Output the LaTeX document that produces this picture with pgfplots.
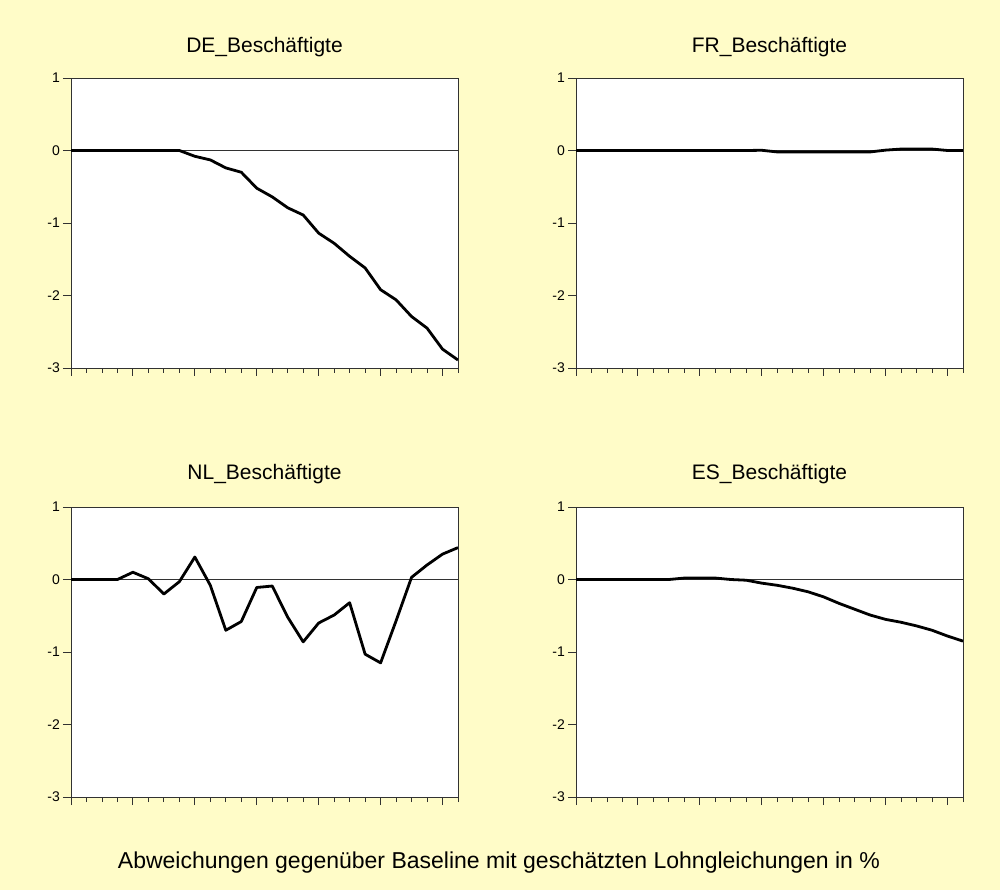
\documentclass[border=0pt]{standalone}
\usepackage{pgfplots}
\pgfplotsset{compat=1.18}
\usepackage{fontspec}
\setmainfont{Liberation Sans}
\definecolor{bg}{RGB}{255,252,200}
\definecolor{ax}{RGB}{50,50,50}

\pgfplotsset{
  every axis title/.style={at={(0.5,1)}, anchor=base, font=\fontsize{21}{23}\selectfont},
  panel/.style={
    scale only axis, width=387pt, height=290pt,
    xmin=0, xmax=25, ymin=-3, ymax=1,
    axis background/.style={fill=white},
    axis line style={ax, line width=0.9pt},
    xtick={0,4,...,24}, xticklabels={},
    minor xtick={0,...,25},
    ytick={-3,-2,-1,0,1},
    yticklabels={-3,-2,-1,0,1},
    tick align=outside, major tick length=8pt, minor tick length=5pt,
    xtick pos=left, ytick pos=left,
    tick style={ax, line width=0.9pt},
    yticklabel style={font=\fontsize{14}{16}\selectfont, inner sep=0pt, xshift=-3pt},
  },
  dat/.style={black, line width=2.8pt, line join=round, no marks},
  zl/.style={ax, line width=0.9pt, no marks, forget plot},
}

\begin{document}
\begin{tikzpicture}[x=1pt,y=1pt]
\fill[bg] (0,0) rectangle (1000,-890);

% DE
\begin{axis}[panel, at={(71pt,-78pt)}, anchor=north west,
  title={DE\_Beschäftigte}, title style={yshift=25pt}]
\addplot[zl] coordinates {(0,0) (25,0)};
\addplot[dat] coordinates {
(0,0) (1,0) (2,0) (3,0) (4,0) (5,0) (6,0) (7,0)
(8,-0.08) (9,-0.13) (10,-0.24) (11,-0.30) (12,-0.52) (13,-0.64)
(14,-0.79) (15,-0.89) (16,-1.14) (17,-1.28) (18,-1.46) (19,-1.62)
(20,-1.92) (21,-2.06) (22,-2.29) (23,-2.45) (24,-2.74) (25,-2.89)};
\end{axis}

% FR
\begin{axis}[panel, at={(576pt,-78pt)}, anchor=north west,
  title={FR\_Beschäftigte}, title style={yshift=25pt}]
\addplot[zl] coordinates {(0,0) (25,0)};
\addplot[dat] coordinates {
(0,0) (1,0) (2,0) (3,0) (4,0) (5,0) (6,0) (7,0) (8,0) (9,0) (10,0) (11,0) (12,0.003)
(13,-0.02) (14,-0.02) (15,-0.02) (16,-0.02) (17,-0.02) (18,-0.02) (19,-0.02)
(20,0.005) (21,0.02) (22,0.02) (23,0.02) (24,0.0) (25,0.0)};
\end{axis}

% NL
\begin{axis}[panel, at={(71pt,-507pt)}, anchor=north west,
  title={NL\_Beschäftigte}, title style={yshift=28pt}]
\addplot[zl] coordinates {(0,0) (25,0)};
\addplot[dat] coordinates {
(0,0) (1,0) (2,0) (3,0) (4,0.10) (5,0.01) (6,-0.20) (7,-0.03)
(8,0.31) (9,-0.08) (10,-0.70) (11,-0.58) (12,-0.11) (13,-0.09)
(14,-0.52) (15,-0.86) (16,-0.60) (17,-0.49) (18,-0.32) (19,-1.03)
(20,-1.15) (21,-0.57) (22,0.03) (23,0.20) (24,0.35) (25,0.44)};
\end{axis}

% ES
\begin{axis}[panel, at={(576pt,-507pt)}, anchor=north west,
  title={ES\_Beschäftigte}, title style={yshift=28pt}]
\addplot[zl] coordinates {(0,0) (25,0)};
\addplot[dat] coordinates {
(0,0) (1,0) (2,0) (3,0) (4,0) (5,0) (6,0) (7,0.02) (8,0.02) (9,0.02)
(10,0.0) (11,-0.01) (12,-0.05) (13,-0.08) (14,-0.12) (15,-0.17)
(16,-0.24) (17,-0.33) (18,-0.41) (19,-0.49) (20,-0.55) (21,-0.59)
(22,-0.64) (23,-0.70) (24,-0.78) (25,-0.85)};
\end{axis}

\node[anchor=base, font=\fontsize{23}{26}\selectfont] at (499,-868)
  {Abweichungen gegenüber Baseline mit geschätzten Lohngleichungen in \%};
\end{tikzpicture}
\end{document}
